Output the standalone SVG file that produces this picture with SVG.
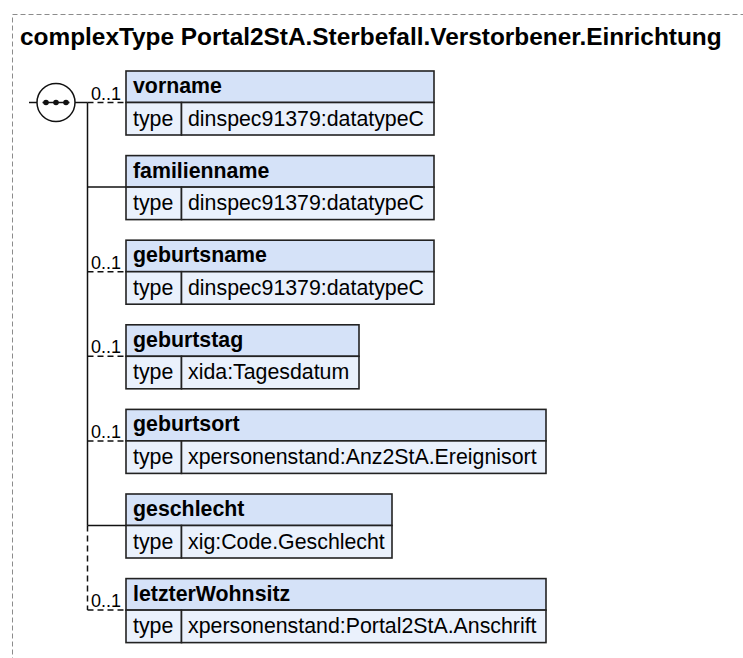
<svg xmlns="http://www.w3.org/2000/svg" width="743" height="658" viewBox="0 0 743 658">
<defs>
<style>
.frame{fill:none;stroke:#8c8c8c;stroke-width:1;stroke-dasharray:5,3}
.title{font-family:"Liberation Sans",Arial,sans-serif;font-weight:bold;font-size:24.4px;fill:#000}
.hdr{fill:#d5e2f8;stroke:#222;stroke-width:1.6}
.row{fill:#eaf1fc;stroke:#222;stroke-width:1.6}
.name{font-family:"Liberation Sans",Arial,sans-serif;font-weight:bold;font-size:21.33px;fill:#000}
.txt{font-family:"Liberation Sans",Arial,sans-serif;font-size:21.33px;fill:#000}
.card{font-family:"Liberation Sans",Arial,sans-serif;font-size:18px;fill:#000}
.solid{fill:none;stroke:#111;stroke-width:1.5}
.dash{fill:none;stroke:#111;stroke-width:1.5;stroke-dasharray:6,4}
</style>
</defs>
<rect class="frame" x="12.5" y="14.5" width="800" height="700"/>
<text class="title" x="20" y="45">complexType Portal2StA.Sterbefall.Verstorbener.Einrichtung</text>

<g id="connectors">
<line class="solid" x1="29" y1="102.5" x2="37" y2="102.5"/>
<line class="solid" x1="75" y1="102.5" x2="87.5" y2="102.5"/>
<line class="solid" x1="87.5" y1="102.5" x2="87.5" y2="525.5"/>
<line class="dash" x1="87.5" y1="525.5" x2="87.5" y2="610.1"/>
<line class="dash" x1="87.5" y1="102.5" x2="126" y2="102.5"/>
<line class="solid" x1="87.5" y1="187.1" x2="126" y2="187.1"/>
<line class="dash" x1="87.5" y1="271.7" x2="126" y2="271.7"/>
<line class="dash" x1="87.5" y1="356.3" x2="126" y2="356.3"/>
<line class="dash" x1="87.5" y1="440.9" x2="126" y2="440.9"/>
<line class="solid" x1="87.5" y1="525.5" x2="126" y2="525.5"/>
<line class="dash" x1="87.5" y1="610.1" x2="126" y2="610.1"/>
<text class="card" x="91" y="99.5">0..1</text>
<text class="card" x="91" y="268.7">0..1</text>
<text class="card" x="91" y="353.3">0..1</text>
<text class="card" x="91" y="437.9">0..1</text>
<text class="card" x="91" y="607.1">0..1</text>
</g>

<g id="sequence">
<circle cx="56" cy="102.5" r="19" fill="#fff" stroke="#111" stroke-width="1.5"/>
<line x1="42.5" y1="102.5" x2="69.5" y2="102.5" stroke="#111" stroke-width="1.5"/>
<circle cx="46" cy="102.5" r="2.8" fill="#111"/>
<circle cx="56" cy="102.5" r="2.8" fill="#111"/>
<circle cx="66" cy="102.5" r="2.8" fill="#111"/>
</g>

<g id="vorname">
<rect class="hdr" x="126" y="71" width="308" height="31.5"/>
<rect class="row" x="126" y="102.5" width="55.5" height="32.5"/>
<rect class="row" x="181.5" y="102.5" width="252.5" height="32.5"/>
<text class="name" x="133" y="93">vorname</text>
<text class="txt" x="133" y="125.5">type</text>
<text class="txt" x="188" y="125.5">dinspec91379:datatypeC</text>
</g>

<g id="familienname">
<rect class="hdr" x="126" y="155.6" width="308" height="31.5"/>
<rect class="row" x="126" y="187.1" width="55.5" height="32.5"/>
<rect class="row" x="181.5" y="187.1" width="252.5" height="32.5"/>
<text class="name" x="133" y="177.6">familienname</text>
<text class="txt" x="133" y="210.1">type</text>
<text class="txt" x="188" y="210.1">dinspec91379:datatypeC</text>
</g>

<g id="geburtsname">
<rect class="hdr" x="126" y="240.2" width="308" height="31.5"/>
<rect class="row" x="126" y="271.7" width="55.5" height="32.5"/>
<rect class="row" x="181.5" y="271.7" width="252.5" height="32.5"/>
<text class="name" x="133" y="262.2">geburtsname</text>
<text class="txt" x="133" y="294.7">type</text>
<text class="txt" x="188" y="294.7">dinspec91379:datatypeC</text>
</g>

<g id="geburtstag">
<rect class="hdr" x="126" y="324.8" width="233" height="31.5"/>
<rect class="row" x="126" y="356.3" width="55.5" height="32.5"/>
<rect class="row" x="181.5" y="356.3" width="177.5" height="32.5"/>
<text class="name" x="133" y="346.8">geburtstag</text>
<text class="txt" x="133" y="379.3">type</text>
<text class="txt" x="188" y="379.3">xida:Tagesdatum</text>
</g>

<g id="geburtsort">
<rect class="hdr" x="126" y="409.4" width="420" height="31.5"/>
<rect class="row" x="126" y="440.9" width="55.5" height="32.5"/>
<rect class="row" x="181.5" y="440.9" width="364.5" height="32.5"/>
<text class="name" x="133" y="431.4">geburtsort</text>
<text class="txt" x="133" y="463.9">type</text>
<text class="txt" x="188" y="463.9">xpersonenstand:Anz2StA.Ereignisort</text>
</g>

<g id="geschlecht">
<rect class="hdr" x="126" y="494" width="266" height="31.5"/>
<rect class="row" x="126" y="525.5" width="55.5" height="32.5"/>
<rect class="row" x="181.5" y="525.5" width="210.5" height="32.5"/>
<text class="name" x="133" y="516">geschlecht</text>
<text class="txt" x="133" y="548.5">type</text>
<text class="txt" x="188" y="548.5">xig:Code.Geschlecht</text>
</g>

<g id="letzterWohnsitz">
<rect class="hdr" x="126" y="578.6" width="420" height="31.5"/>
<rect class="row" x="126" y="610.1" width="55.5" height="32.5"/>
<rect class="row" x="181.5" y="610.1" width="364.5" height="32.5"/>
<text class="name" x="133" y="600.6">letzterWohnsitz</text>
<text class="txt" x="133" y="633.1">type</text>
<text class="txt" x="188" y="633.1">xpersonenstand:Portal2StA.Anschrift</text>
</g>
</svg>
